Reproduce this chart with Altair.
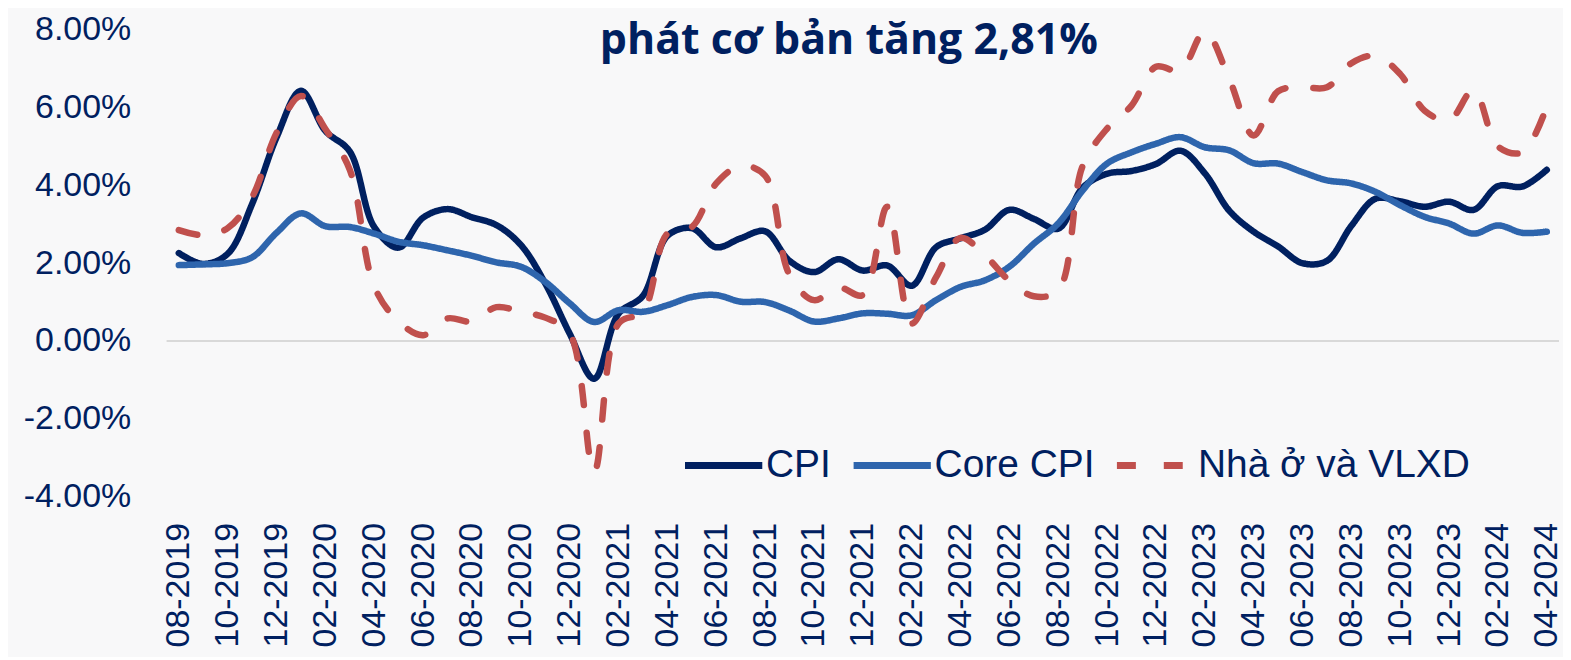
import altair as alt
import pandas as pd

months = [
    "08-2019", "09-2019", "10-2019", "11-2019", "12-2019",
    "01-2020", "02-2020", "03-2020", "04-2020", "05-2020", "06-2020",
    "07-2020", "08-2020", "09-2020", "10-2020", "11-2020", "12-2020",
    "01-2021", "02-2021", "03-2021", "04-2021", "05-2021", "06-2021",
    "07-2021", "08-2021", "09-2021", "10-2021", "11-2021", "12-2021",
    "01-2022", "02-2022", "03-2022", "04-2022", "05-2022", "06-2022",
    "07-2022", "08-2022", "09-2022", "10-2022", "11-2022", "12-2022",
    "01-2023", "02-2023", "03-2023", "04-2023", "05-2023", "06-2023",
    "07-2023", "08-2023", "09-2023", "10-2023", "11-2023", "12-2023",
    "01-2024", "02-2024", "03-2024", "04-2024",
]
tick_labels = months[::2]

cpi = [2.26, 1.98, 2.24, 3.52, 5.23,
       6.43, 5.40, 4.87, 2.93, 2.40, 3.17, 3.39, 3.18, 2.98, 2.47, 1.48, 0.19,
       -0.97, 0.70, 1.16, 2.70, 2.90, 2.41, 2.64, 2.82, 2.06, 1.77, 2.10, 1.81,
       1.94, 1.42, 2.41, 2.64, 2.86, 3.37, 3.14, 2.89, 3.94, 4.30, 4.37, 4.55,
       4.89, 4.31, 3.35, 2.81, 2.43, 2.00, 2.06, 2.96, 3.66, 3.59, 3.45, 3.58,
       3.37, 3.98, 3.97, 4.40]
core = [1.95, 1.97, 2.00, 2.15, 2.78,
        3.28, 2.95, 2.93, 2.76, 2.55, 2.46, 2.33, 2.19, 2.02, 1.91, 1.52, 0.97,
        0.49, 0.79, 0.75, 0.92, 1.13, 1.18, 1.01, 1.00, 0.78, 0.50, 0.58, 0.71,
        0.70, 0.66, 1.05, 1.39, 1.56, 1.91, 2.50, 3.02, 3.87, 4.56, 4.85, 5.07,
        5.24, 4.98, 4.90, 4.57, 4.56, 4.34, 4.13, 4.05, 3.83, 3.49, 3.19, 3.02,
        2.76, 2.97, 2.78, 2.81]
housing = [2.85, 2.72, 2.90, 3.70, 5.35,
           6.30, 5.45, 4.40, 1.40, 0.50, 0.15, 0.58, 0.50, 0.87, 0.75, 0.60, 0.20,
           -3.36, 0.45, 0.75, 2.76, 2.93, 4.05, 4.50, 4.25, 1.70, 1.05, 1.38, 1.18,
           3.45, 0.45, 1.64, 2.65, 2.20, 1.55, 1.15, 1.30, 4.50, 5.46, 6.05, 7.05,
           6.95, 7.95, 6.74, 5.28, 6.42, 6.52, 6.52, 7.14, 7.33, 6.86, 5.92, 5.67,
           6.45, 5.00, 4.85, 6.03]

series_names = ["CPI", "Core CPI", "Nhà ở và VLXD"]
colors = ["#002060", "#2E65AD", "#C0504D"]
dashes = [[1, 0], [1, 0], [19, 28]]
y_ticks = [-4, -2, 0, 2, 4, 6, 8]
title_text = ["phát cơ bản tăng 2,81%"]
navy = "#002060"

rows = []
for name, vals in zip(series_names, [cpi, core, housing]):
    for m, v in zip(months, vals):
        rows.append({"month": m, "value": v, "series": name})
df = pd.DataFrame(rows)

x_enc = alt.X(
    "month:O", sort=months,
    scale=alt.Scale(type="point", padding=0.5),
    axis=alt.Axis(values=tick_labels, labelAngle=270, title=None, ticks=False,
                  domain=False, labelFontSize=34, labelColor=navy,
                  labelFont="Liberation Sans", labelPadding=26,
                  labelAlign="right", labelBaseline="middle", labelOverlap=False),
)
y_enc = alt.Y(
    "value:Q",
    scale=alt.Scale(domain=[-4, 8], nice=False, zero=False),
    axis=alt.Axis(values=y_ticks, grid=False, ticks=False, domain=False, title=None,
                  labelExpr="(datum.value < 0 ? '-' : '') + format(abs(datum.value), '.2f') + '%'",
                  labelFontSize=34, labelPadding=36, labelColor=navy,
                  labelFont="Liberation Sans"),
)

legend = alt.Legend(
    orient="none", legendX=516, legendY=394, direction="horizontal", title=None,
    symbolType="stroke", symbolSize=6000, symbolStrokeWidth=7,
    labelFontSize=39, labelColor=navy, labelFont="Liberation Sans", labelLimit=0,
    columnPadding=7, labelOffset=0, padding=0,
    labelExpr="indexof(datum.label, 'VLXD') >= 0 ? '\u2003\u2002' + datum.label : datum.label",
)

color_enc = alt.Color("series:N", scale=alt.Scale(domain=series_names, range=colors), legend=legend)
dash_enc = alt.StrokeDash("series:N", scale=alt.Scale(domain=series_names, range=dashes), legend=legend)

zero = alt.Chart(pd.DataFrame({"value": [0]})).mark_rule(color="#d9d9d9", strokeWidth=2).encode(y=y_enc)

layers = [zero]
for name in series_names:
    layers.append(
        alt.Chart(df).transform_filter(alt.datum.series == name)
        .mark_line(interpolate="catmull-rom", strokeWidth=6.5, strokeCap="round", strokeJoin="round")
        .encode(x=x_enc, y=y_enc, color=color_enc, strokeDash=dash_enc)
    )

title = alt.Chart(pd.DataFrame({"t": title_text})).mark_text(
    font="Open Sans", fontSize=43, fontWeight="bold", color=navy,
    align="center", baseline="alphabetic",
).encode(text="t:N", x=alt.value(684), y=alt.value(24))
layers.append(title)

chart = alt.layer(*layers).properties(
    width=1396, height=468,
    autosize=alt.AutoSizeParams(type="none"),
    padding={"left": 159, "top": 21, "right": 4, "bottom": 160},
    background="#f8f8f9",
).configure_view(stroke=None)

chart.save("out.html", embed_options={"renderer": "svg", "actions": False})
